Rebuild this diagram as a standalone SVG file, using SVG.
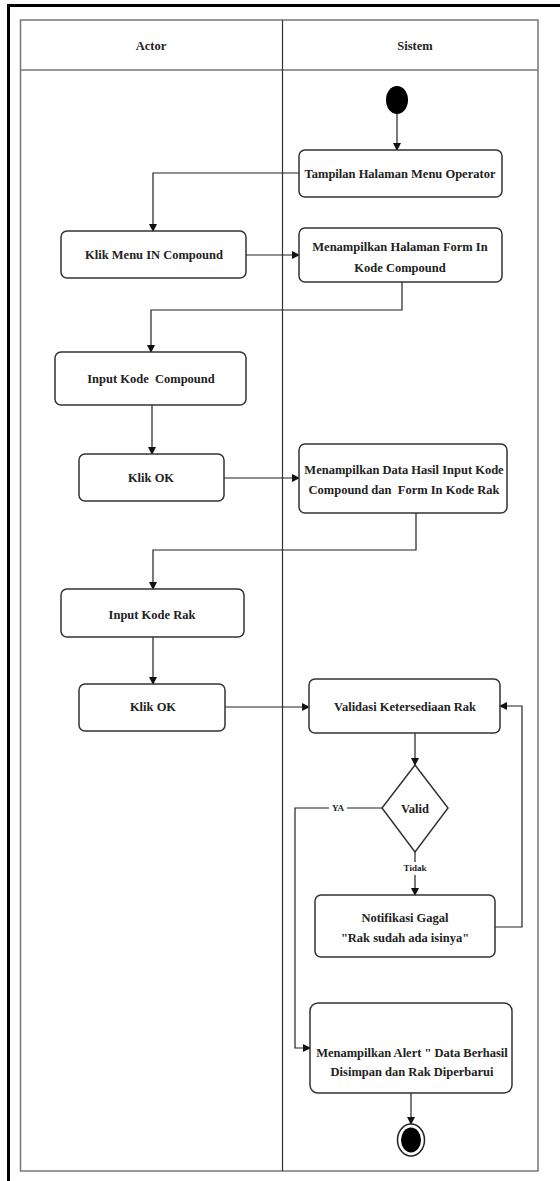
<svg xmlns="http://www.w3.org/2000/svg" width="560" height="1181" viewBox="0 0 560 1181">
<defs>
<marker id="arr" markerWidth="8" markerHeight="8" refX="7" refY="4" orient="auto" markerUnits="userSpaceOnUse">
<path d="M0,0 L8,4 L0,8 Z" fill="#111"/>
</marker>
<style>
.box{fill:#fff;stroke:#333;stroke-width:1.5}
.lane{fill:none;stroke:#777;stroke-width:1.5}
.c{fill:none;stroke:#222;stroke-width:1.2}
.t{font-family:"Liberation Serif","Times New Roman",serif;font-weight:bold;font-size:12.5px;fill:#222;text-anchor:middle;dominant-baseline:central}
.s{font-family:"Liberation Serif","Times New Roman",serif;font-weight:bold;font-size:9px;fill:#222;text-anchor:middle;dominant-baseline:central}
</style>
</defs>
<rect width="560" height="1181" fill="#fff"/>
<g id="frame">
<path d="M8.5,1181 V5.5 H560" fill="none" stroke="#000" stroke-width="3"/>
<rect class="lane" x="20.5" y="20" width="517.5" height="1151"/>
<line class="lane" x1="20.5" y1="70" x2="538" y2="70"/>
<line x1="282.5" y1="20" x2="282.5" y2="1171" stroke="#333" stroke-width="1.2"/>
<text class="t" x="151" y="46">Actor</text>
<text class="t" x="415" y="46">Sistem</text>
</g>
<g id="connectors">
<line class="c" x1="397" y1="114" x2="397" y2="150" marker-end="url(#arr)"/>
<polyline class="c" points="299,173 153,173 153,231" marker-end="url(#arr)"/>
<line class="c" x1="246" y1="255" x2="299" y2="255" marker-end="url(#arr)"/>
<polyline class="c" points="402,282 402,310 151,310 151,352" marker-end="url(#arr)"/>
<line class="c" x1="152" y1="405" x2="152" y2="454" marker-end="url(#arr)"/>
<line class="c" x1="224" y1="478" x2="299" y2="478" marker-end="url(#arr)"/>
<polyline class="c" points="416,513 416,550 153,550 153,589" marker-end="url(#arr)"/>
<line class="c" x1="153" y1="637" x2="153" y2="684" marker-end="url(#arr)"/>
<line class="c" x1="225" y1="707" x2="309" y2="707" marker-end="url(#arr)"/>
<line class="c" x1="415" y1="733" x2="415" y2="765" marker-end="url(#arr)"/>
<line class="c" x1="415" y1="852" x2="415" y2="895" marker-end="url(#arr)"/>
<polyline class="c" points="495,927 522,927 522,706 500,706" marker-end="url(#arr)"/>
<polyline class="c" points="382,808 295,808 295,1048 310,1048" marker-end="url(#arr)"/>
<line class="c" x1="411" y1="1093" x2="411" y2="1124" marker-end="url(#arr)"/>
<rect x="329" y="802" width="18" height="12" fill="#fff"/>
<text class="s" x="338" y="808">YA</text>
<rect x="403" y="862" width="24" height="13" fill="#fff"/>
<text class="s" x="415" y="868">Tidak</text>
</g>
<g id="start"><ellipse cx="397" cy="100" rx="11" ry="14" fill="#000"/></g>
<g id="n1"><rect class="box" x="299" y="150" width="203" height="47" rx="6"/><text class="t" x="400" y="174">Tampilan Halaman Menu Operator</text></g>
<g id="n2"><rect class="box" x="61" y="231" width="185" height="47" rx="6"/><text class="t" x="154" y="255">Klik Menu IN Compound</text></g>
<g id="n3"><rect class="box" x="299" y="228" width="203" height="54" rx="6"/><text class="t" x="400" y="247">Menampilkan Halaman Form In</text><text class="t" x="400" y="268">Kode Compound</text></g>
<g id="n4"><rect class="box" x="55" y="352" width="191" height="53" rx="6"/><text class="t" x="151" y="379" xml:space="preserve">Input Kode  Compound</text></g>
<g id="n5"><rect class="box" x="79" y="454" width="145" height="47" rx="6"/><text class="t" x="151" y="478">Klik OK</text></g>
<g id="n6"><rect class="box" x="299" y="444" width="208" height="69" rx="6"/><text class="t" x="404" y="470">Menampilkan Data Hasil Input Kode</text><text class="t" x="404" y="490" xml:space="preserve">Compound dan  Form In Kode Rak</text></g>
<g id="n7"><rect class="box" x="61" y="589" width="183" height="48" rx="6"/><text class="t" x="152" y="615">Input Kode Rak</text></g>
<g id="n8"><rect class="box" x="79" y="684" width="146" height="47" rx="6"/><text class="t" x="153" y="707">Klik OK</text></g>
<g id="n9"><rect class="box" x="309" y="679" width="191" height="54" rx="6"/><text class="t" x="405" y="707">Validasi Ketersediaan Rak</text></g>
<g id="d1"><polygon class="box" points="415,765 448,808 415,852 382,808"/><text class="t" x="415" y="809">Valid</text></g>
<g id="n10"><rect class="box" x="315" y="895" width="180" height="62" rx="6"/><text class="t" x="405" y="918">Notifikasi Gagal</text><text class="t" x="405" y="938">"Rak sudah ada isinya"</text></g>
<g id="n11"><rect class="box" x="310" y="1003" width="202" height="90" rx="8"/><text class="t" x="412" y="1053">Menampilkan Alert " Data Berhasil</text><text class="t" x="412" y="1072">Disimpan dan Rak Diperbarui</text></g>
<g id="end"><ellipse cx="411" cy="1140" rx="13.5" ry="16" fill="#fff" stroke="#222" stroke-width="1.5"/><ellipse cx="411" cy="1140" rx="10" ry="12.5" fill="#000"/></g>
</svg>
